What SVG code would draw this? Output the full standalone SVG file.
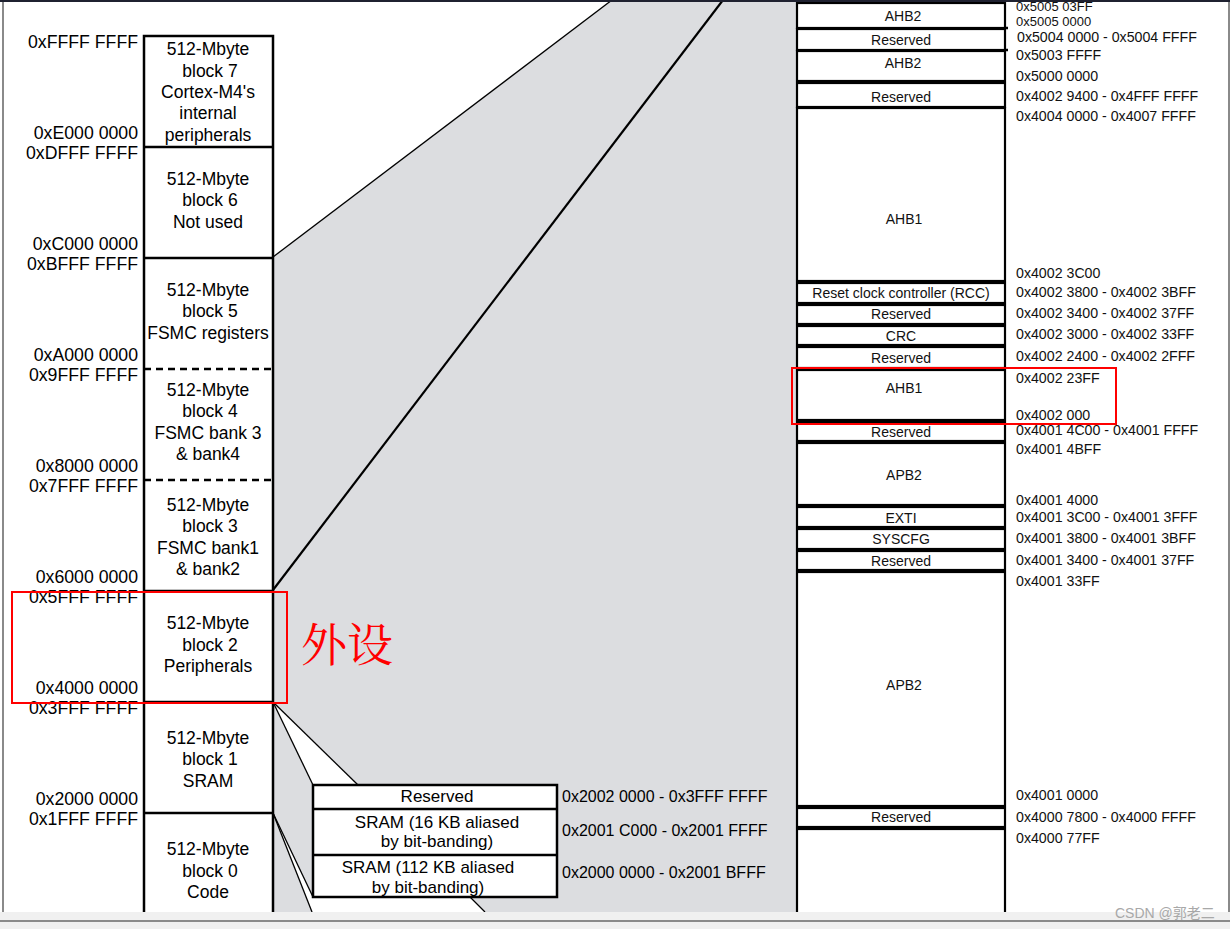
<svg xmlns="http://www.w3.org/2000/svg" width="1230" height="929" viewBox="0 0 1230 929">
<style>
text{font-family:"Liberation Sans",Arial,sans-serif;fill:#000}
.addr{font-size:17.7px;text-anchor:end}
.blk{font-size:17.5px;text-anchor:middle}
.box{fill:#fff;stroke:#000;stroke-width:2.5}
.sep{stroke:#000;stroke-width:2.5}
.dash{stroke:#000;stroke-width:2.5;stroke-dasharray:7 5}
.row{fill:#fff;stroke:#000;stroke-width:2.2}
.rt{font-size:14px;text-anchor:middle;fill:#111}
.ra{font-size:14.2px;fill:#111}
.st{font-size:17px;text-anchor:middle}
.sa{font-size:16px}
.thin{stroke:#000;stroke-width:1.3;fill:none}
.red{fill:none;stroke:#f00;stroke-width:2}
</style>
<rect x="0" y="0" width="1230" height="929" fill="#fff"/>
<g id="background">
<polygon points="273,257 612,0 797,0 797,912 273,912" fill="#dcdde0"/>
<polygon points="273,702 313,785 358,785" fill="#fff"/>
<polygon points="273,813 313,897 470,897 485,912 312,912" fill="#fff"/>
</g>
<g id="connectors">
<line x1="273" y1="257" x2="612" y2="0" class="thin"/>
<line x1="273" y1="590" x2="723" y2="0" stroke="#000" stroke-width="2.2"/>
<line x1="273" y1="702" x2="313" y2="785" class="thin"/>
<line x1="273" y1="702" x2="358" y2="785" class="thin"/>
<line x1="273" y1="813" x2="313" y2="897" class="thin"/>
<line x1="273" y1="813" x2="312" y2="912" class="thin"/>
<line x1="470" y1="897" x2="485" y2="912" class="thin"/>
</g>
<g id="memory-column">
<rect x="144" y="36" width="129" height="890" class="box"/>
<line x1="144" y1="147" x2="273" y2="147" class="sep"/>
<line x1="144" y1="258" x2="273" y2="258" class="sep"/>
<line x1="144" y1="369" x2="273" y2="369" class="dash"/>
<line x1="144" y1="480" x2="273" y2="480" class="dash"/>
<line x1="144" y1="591" x2="273" y2="591" class="sep"/>
<line x1="144" y1="702" x2="273" y2="702" class="sep"/>
<line x1="144" y1="813" x2="273" y2="813" class="sep"/>
</g>
<g id="block7"><text class="blk" x="208" y="55">512-Mbyte</text><text class="blk" x="210" y="77">block 7</text><text class="blk" x="208" y="98">Cortex-M4's</text><text class="blk" x="208" y="119">internal</text><text class="blk" x="208" y="141">peripherals</text></g>
<g id="block6"><text class="blk" x="208" y="185">512-Mbyte</text><text class="blk" x="210" y="206">block 6</text><text class="blk" x="208" y="228">Not used</text></g>
<g id="block5"><text class="blk" x="208" y="296">512-Mbyte</text><text class="blk" x="210" y="317">block 5</text><text class="blk" x="208" y="339">FSMC registers</text></g>
<g id="block4"><text class="blk" x="208" y="396">512-Mbyte</text><text class="blk" x="210" y="417">block 4</text><text class="blk" x="208" y="439">FSMC bank 3</text><text class="blk" x="208" y="460">&amp; bank4</text></g>
<g id="block3"><text class="blk" x="208" y="511">512-Mbyte</text><text class="blk" x="210" y="532">block 3</text><text class="blk" x="208" y="554">FSMC bank1</text><text class="blk" x="208" y="575">&amp; bank2</text></g>
<g id="block2"><text class="blk" x="208" y="629">512-Mbyte</text><text class="blk" x="210" y="651">block 2</text><text class="blk" x="208" y="672">Peripherals</text></g>
<g id="block1"><text class="blk" x="208" y="744">512-Mbyte</text><text class="blk" x="210" y="765">block 1</text><text class="blk" x="208" y="787">SRAM</text></g>
<g id="block0"><text class="blk" x="208" y="855">512-Mbyte</text><text class="blk" x="210" y="877">block 0</text><text class="blk" x="208" y="898">Code</text></g>
<g id="addresses-left">
<text class="addr" x="138" y="48">0xFFFF FFFF</text>
<text class="addr" x="138" y="139">0xE000 0000</text>
<text class="addr" x="138" y="159">0xDFFF FFFF</text>
<text class="addr" x="138" y="250">0xC000 0000</text>
<text class="addr" x="138" y="270">0xBFFF FFFF</text>
<text class="addr" x="138" y="361">0xA000 0000</text>
<text class="addr" x="138" y="381">0x9FFF FFFF</text>
<text class="addr" x="138" y="472">0x8000 0000</text>
<text class="addr" x="138" y="492">0x7FFF FFFF</text>
<text class="addr" x="138" y="583">0x6000 0000</text>
<text class="addr" x="138" y="603">0x5FFF FFFF</text>
<text class="addr" x="138" y="694">0x4000 0000</text>
<text class="addr" x="138" y="714">0x3FFF FFFF</text>
<text class="addr" x="138" y="805">0x2000 0000</text>
<text class="addr" x="138" y="825">0x1FFF FFFF</text>
<text class="addr" x="138" y="925">0x0000 0000</text>
</g>
<g id="sram-detail">
<rect x="313" y="785" width="244" height="112" class="box"/>
<line x1="313" y1="809" x2="557" y2="809" class="sep"/>
<line x1="313" y1="855" x2="557" y2="855" class="sep"/>
<text class="st" x="437" y="802">Reserved</text>
<text class="st" x="437" y="828">SRAM (16 KB aliased</text>
<text class="st" x="437" y="847">by bit-banding)</text>
<text class="st" x="428" y="873">SRAM (112 KB aliased</text>
<text class="st" x="428" y="893">by bit-banding)</text>
<text class="sa" x="562" y="802">0x2002 0000 - 0x3FFF FFFF</text>
<text class="sa" x="562" y="836">0x2001 C000 - 0x2001 FFFF</text>
<text class="sa" x="562" y="878">0x2000 0000 - 0x2001 BFFF</text>
</g>
<g id="peripheral-map">
<rect x="797" y="3" width="208" height="25" class="row"/>
<rect x="797" y="29" width="208" height="21" class="row"/>
<rect x="797" y="51" width="208" height="30" class="row"/>
<rect x="797" y="83" width="208" height="24" class="row"/>
<rect x="797" y="108" width="208" height="173" class="row"/>
<rect x="797" y="283" width="208" height="20" class="row"/>
<rect x="797" y="305" width="208" height="19" class="row"/>
<rect x="797" y="326" width="208" height="19" class="row"/>
<rect x="797" y="347" width="208" height="21" class="row"/>
<rect x="797" y="370" width="208" height="50" class="row"/>
<rect x="797" y="422" width="208" height="19" class="row"/>
<rect x="797" y="443" width="208" height="62" class="row"/>
<rect x="797" y="507" width="208" height="20" class="row"/>
<rect x="797" y="529" width="208" height="20" class="row"/>
<rect x="797" y="551" width="208" height="19" class="row"/>
<rect x="797" y="572" width="208" height="234" class="row"/>
<rect x="797" y="808" width="208" height="19" class="row"/>
<rect x="797" y="829" width="208" height="100" class="row"/>
<line x1="1005" y1="28" x2="1008" y2="28" class="sep"/>
<line x1="1005" y1="50" x2="1008" y2="50" class="sep"/>
<text class="rt" x="903" y="21">AHB2</text>
<text class="rt" x="901" y="45">Reserved</text>
<text class="rt" x="903" y="68">AHB2</text>
<text class="rt" x="901" y="102">Reserved</text>
<text class="rt" x="904" y="224">AHB1</text>
<text class="rt" x="901" y="298">Reset clock controller (RCC)</text>
<text class="rt" x="901" y="319">Reserved</text>
<text class="rt" x="901" y="341">CRC</text>
<text class="rt" x="901" y="363">Reserved</text>
<text class="rt" x="904" y="393">AHB1</text>
<text class="rt" x="901" y="437">Reserved</text>
<text class="rt" x="904" y="480">APB2</text>
<text class="rt" x="901" y="523">EXTI</text>
<text class="rt" x="901" y="544">SYSCFG</text>
<text class="rt" x="901" y="566">Reserved</text>
<text class="rt" x="904" y="690">APB2</text>
<text class="rt" x="901" y="822">Reserved</text>
</g>
<g id="addresses-right">
<text class="ra" x="1016" y="11" style="font-size:13px">0x5005 03FF</text>
<text class="ra" x="1016" y="26" style="font-size:13px">0x5005 0000</text>
<text class="ra" x="1017" y="42">0x5004 0000 - 0x5004 FFFF</text>
<text class="ra" x="1016" y="60">0x5003 FFFF</text>
<text class="ra" x="1016" y="81">0x5000 0000</text>
<text class="ra" x="1016" y="101">0x4002 9400 - 0x4FFF FFFF</text>
<text class="ra" x="1016" y="121">0x4004 0000 - 0x4007 FFFF</text>
<text class="ra" x="1016" y="278">0x4002 3C00</text>
<text class="ra" x="1016" y="297">0x4002 3800 - 0x4002 3BFF</text>
<text class="ra" x="1016" y="318">0x4002 3400 - 0x4002 37FF</text>
<text class="ra" x="1016" y="339">0x4002 3000 - 0x4002 33FF</text>
<text class="ra" x="1016" y="361">0x4002 2400 - 0x4002 2FFF</text>
<text class="ra" x="1016" y="383">0x4002 23FF</text>
<text class="ra" x="1016" y="420">0x4002 000</text>
<text class="ra" x="1016" y="435">0x4001 4C00 - 0x4001 FFFF</text>
<text class="ra" x="1016" y="454">0x4001 4BFF</text>
<text class="ra" x="1016" y="505">0x4001 4000</text>
<text class="ra" x="1016" y="522">0x4001 3C00 - 0x4001 3FFF</text>
<text class="ra" x="1016" y="543">0x4001 3800 - 0x4001 3BFF</text>
<text class="ra" x="1016" y="565">0x4001 3400 - 0x4001 37FF</text>
<text class="ra" x="1016" y="586">0x4001 33FF</text>
<text class="ra" x="1016" y="800">0x4001 0000</text>
<text class="ra" x="1016" y="822">0x4000 7800 - 0x4000 FFFF</text>
<text class="ra" x="1016" y="843">0x4000 77FF</text>
</g>
<g id="annotations">
<rect x="12" y="592" width="275" height="111" class="red"/>
<rect x="792" y="368" width="324" height="56" class="red"/>
<text x="301" y="661" style="font-family:'Noto Serif CJK SC','Noto Sans CJK SC',serif;font-size:46px;fill:#f00">外设</text>
</g>
<g id="frame">
<rect x="0" y="0" width="1230" height="2" fill="#1f2130"/>
<rect x="2" y="2" width="2" height="910" fill="#8a8a8a"/>
<rect x="1228" y="2" width="2" height="910" fill="#8a8a8a"/>
<rect x="0" y="912" width="1230" height="17" fill="#f0f0f0"/>
<rect x="0" y="920" width="1230" height="2" fill="#8a8a8a"/>
<text x="1115" y="918" style="font-family:'Liberation Sans','Noto Sans CJK SC',sans-serif;font-size:14px;fill:#a8a8a8">CSDN @郭老二</text>
</g>
</svg>
